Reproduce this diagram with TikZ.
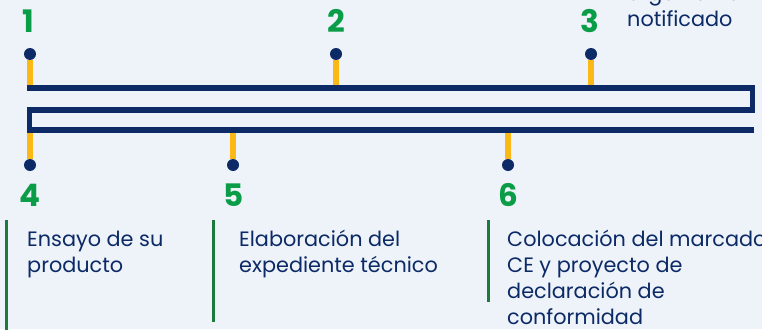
\documentclass[tikz,border=0pt]{standalone}
\usepackage{fontspec}
\setmainfont{Poppins}
\definecolor{navy}{HTML}{0B2A66}
\definecolor{stemcol}{HTML}{FBB817}
\definecolor{numcol}{HTML}{0A9D48}
\definecolor{rulecol}{HTML}{1E7A3C}
\definecolor{bgcol}{HTML}{EEF2F9}
\tikzset{dot/.style={inner sep=0pt,minimum size=12pt,circle,fill=navy}}
\tikzset{num/.style={anchor=base,inner sep=0pt,text=numcol,font=\fontsize{31}{31}\selectfont\bfseries}}
\tikzset{stem/.style={stemcol,line width=5.5pt}}
\tikzset{label/.style={anchor=base west,inner sep=0pt,align=left,text=navy,font=\fontsize{20.8}{26}\selectfont}}
\tikzset{rule/.style={rulecol,line width=3pt}}

\begin{document}
\begin{tikzpicture}[x=1pt,y=-1pt]
                    \useasboundingbox (0,0) rectangle (762,329);
                    \fill[bgcol] (0,0) rectangle (762,329);
                    \clip (0,0) rectangle (762,329);

                    \node[dot] (d1) at (30,54) {};
                    \node[dot] (d2) at (336,54) {};
                    \node[dot] (d3) at (591,54) {};
                    \node[dot] (d4) at (30,165) {};
                    \node[dot] (d5) at (233,165) {};
                    \node[dot] (d6) at (508,165) {};

                    \coordinate (b1) at (30,88);
                    \coordinate (b2) at (336,88);
                    \coordinate (b3) at (591,88);
                    \coordinate (b4) at (30,130);
                    \coordinate (b5) at (233,130);
                    \coordinate (b6) at (508,130);

                    \draw[stem] (d1) -- (b1);
                    \draw[stem] (d2) -- (b2);
                    \draw[stem] (d3) -- (b3);
                    \draw[stem] (d4) -- (b4);
                    \draw[stem] (d5) -- (b5);
                    \draw[stem] (d6) -- (b6);

                    \draw[navy, line width=5.5pt, line join=miter]
                        (27,88) -- (752.5,88) -- (752.5,110) -- (29.5,110) -- (29.5,130) -- (754,130);

                    \node[num] (n1) at (28,33) {1};
                    \node[num] (n2) at (336,33) {2};
                    \node[num] (n3) at (590,33) {3};
                    \node[num] (n4) at (30,206) {4};
                    \node[num] (n5) at (234,206) {5};
                    \node[num] (n6) at (508,206) {6};

                    \draw[rule] (6,220) -- (6,335);
                    \draw[rule] (213.5,220) -- (213.5,321.5);
                    \draw[rule] (488,220) -- (488,301.5);

                    % base of a multi-line label is its last line
                    \node[label] (t3) at (627,26.7) {organismo\\notificado};
                    \node[label] (t4) at (27,272.5) {Ensayo de su\\producto};
                    \node[label] (t5) at (239,272) {Elaboración del\\expediente técnico};
                    \node[label] (t6) at (507,324) {Colocación del marcado\\CE y proyecto de\\declaración de\\conformidad};
                \end{tikzpicture}
\end{document}
